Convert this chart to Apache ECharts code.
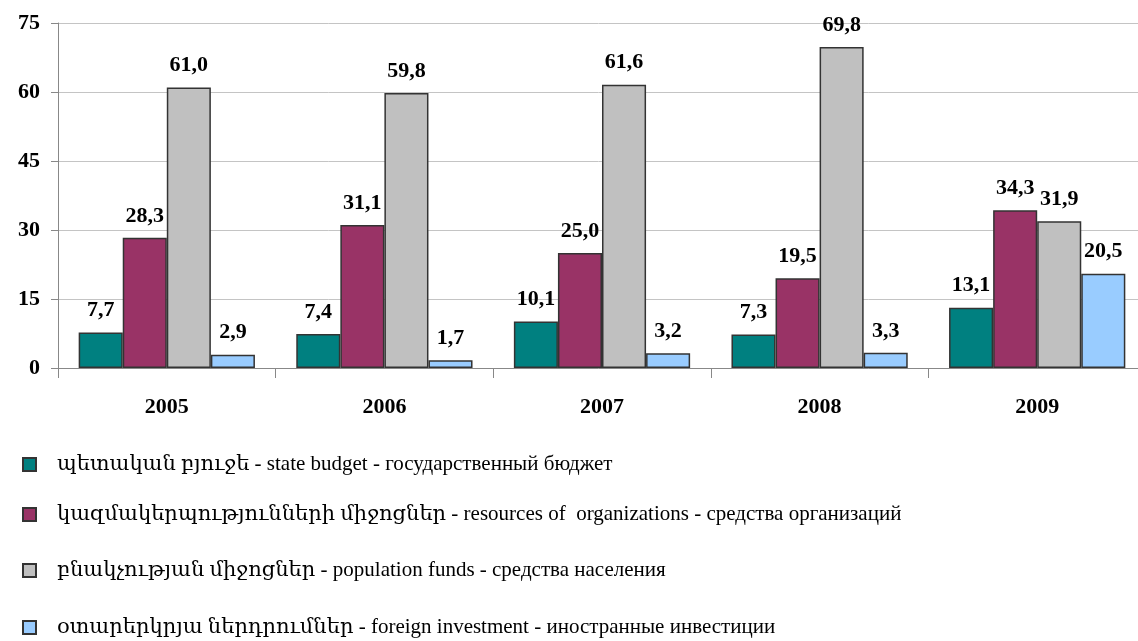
<!DOCTYPE html>
<html>
<head>
<meta charset="utf-8">
<script src="https://cdn.jsdelivr.net/npm/echarts@6/dist/echarts.min.js"></script>
<style>
  html, body { margin: 0; padding: 0; background: #fff; overflow: hidden; }
  #chart { width: 1138px; height: 641px; }
</style>
</head>
<body>
<div id="chart"></div>
<script>
const years = ['2005', '2006', '2007', '2008', '2009'];
const stateBudget = [7.7, 7.4, 10.1, 7.3, 13.1];
const orgResources = [28.3, 31.1, 25.0, 19.5, 34.3];
const populationFunds = [61.0, 59.8, 61.6, 69.8, 31.9];
const foreignInvestment = [2.9, 1.7, 3.2, 3.3, 20.5];

const seriesNames = [
  'պետական բյուջե - state budget - государственный бюджет',
  'կազմակերպությունների միջոցներ - resources of  organizations - средства организаций',
  'բնակչության միջոցներ - population funds - средства населения',
  'օտարերկրյա ներդրումներ - foreign investment - иностранные инвестиции'
];
const colors = ['#008080', '#993366', '#c0c0c0', '#99ccff'];
// vertical centre of each legend row
const legendRows = [465, 515, 571, 628];

const serif = '"Liberation Serif", "DejaVu Serif", serif';

function makeSeries(name, data, color) {
  return {
    name: name,
    type: 'bar',
    data: data,
    barGap: '0%',
    barCategoryGap: '19%',
    itemStyle: { color: color, borderColor: '#333', borderWidth: 1.5 },
    label: {
      show: true,
      position: 'top',
      distance: 11,
      fontFamily: serif,
      fontWeight: 'bold',
      fontSize: 22,
      color: '#000',
      formatter: p => p.value.toFixed(1).replace('.', ',')
    }
  };
}

const legends = seriesNames.map((name, i) => ({
  orient: 'vertical',
  left: 17,
  top: legendRows[i] - 16,
  itemWidth: 13,
  itemHeight: 13,
  icon: 'rect',
  textStyle: { fontFamily: serif, fontSize: 21, color: '#000', padding: [0, 0, 0, 16] },
  data: [name]
}));

const chart = echarts.init(document.getElementById('chart'));
chart.setOption({
  animation: false,
  // plot area runs a little past the right edge, as in the cropped original
  grid: { left: 58, width: 1088, top: 23, bottom: 273, containLabel: false, outerBoundsMode: 'none' },
  legend: legends,
  xAxis: {
    type: 'category',
    data: years,
    axisLine: { lineStyle: { color: '#888', width: 1 } },
    axisTick: { show: true, length: 10, lineStyle: { color: '#888' } },
    axisLabel: { fontFamily: serif, fontWeight: 'bold', fontSize: 22, color: '#000', margin: 28 }
  },
  yAxis: {
    type: 'value',
    min: 0,
    max: 75,
    interval: 15,
    axisLine: { show: true, lineStyle: { color: '#888', width: 1 } },
    axisTick: { show: true, length: 7, lineStyle: { color: '#888' } },
    axisLabel: { fontFamily: serif, fontWeight: 'bold', fontSize: 22, color: '#000', margin: 18 },
    splitLine: { lineStyle: { color: '#c4c4c4', width: 1 } }
  },
  series: [
    makeSeries(seriesNames[0], stateBudget, colors[0]),
    makeSeries(seriesNames[1], orgResources, colors[1]),
    makeSeries(seriesNames[2], populationFunds, colors[2]),
    makeSeries(seriesNames[3], foreignInvestment, colors[3])
  ]
});
</script>
</body>
</html>
